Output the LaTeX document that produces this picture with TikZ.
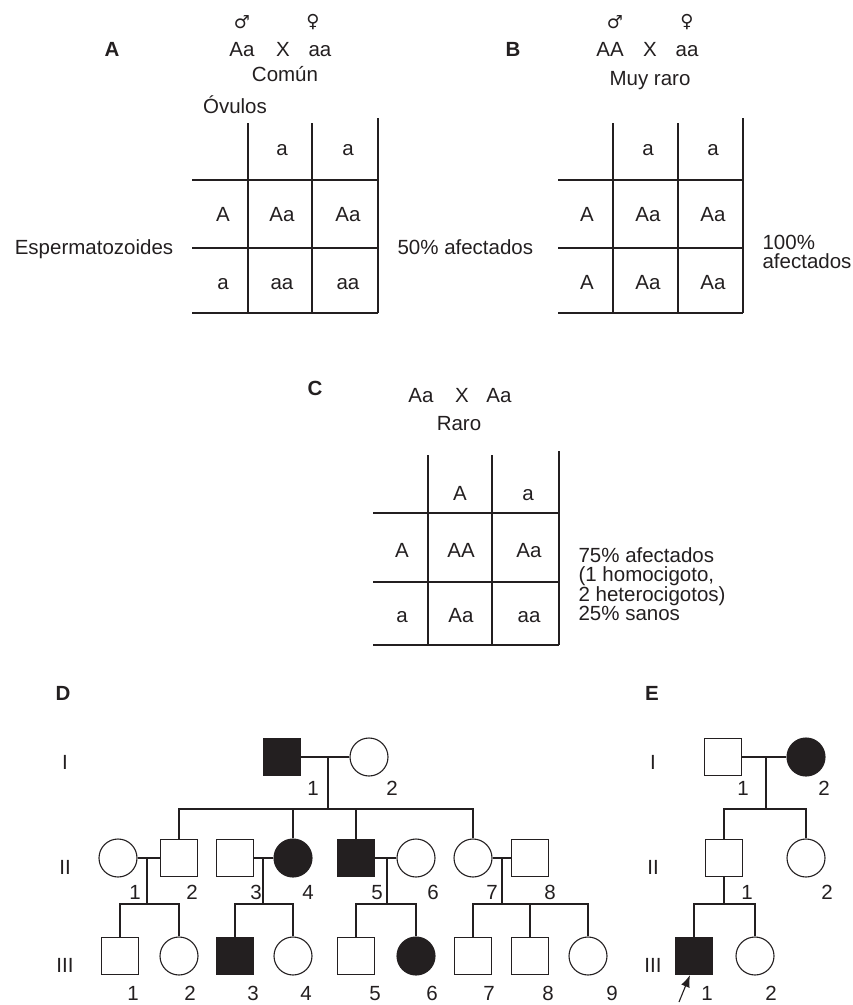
\documentclass[tikz,border=0pt]{standalone}
\usepackage{fontspec}
\setmainfont{Liberation Sans}
\newfontfamily\symfont{DejaVu Sans}
\usetikzlibrary{arrows.meta, positioning, calc}
\definecolor{ink}{HTML}{231F20}

\tikzset{
    txt/.style={inner sep=0pt, text height=14.7pt, text depth=0pt},
    sexsym/.style={inner sep=0pt, font=\symfont\fontsize{18}{18}\selectfont},
    note/.style={inner sep=0pt, align=left, anchor=west},
    male/.style={draw, rectangle, minimum size=37pt, inner sep=0pt},
    female/.style={draw, circle, minimum size=38pt, inner sep=0pt},
    affected/.style={fill=ink},
}

\begin{document}
\begin{tikzpicture}[x=1pt, y=-1pt, line width=1.1pt, color=ink,
    font=\fontsize{20.5}{19}\selectfont]
\useasboundingbox (0,0) rectangle (853,1005);

% --- A: Aa x aa
\node[txt] (labA) at (112,49) {\bfseries A};
\node[sexsym] (aMale) at (242,22) {♂};
\node[sexsym] (aFemale) at (313,22) {♀};
\node[txt] (aP1) at (242,49) {Aa};
\node[txt] (aX) at (283,49) {X};
\node[txt] (aP2) at (320,49) {aa};
\node[txt] (aFreq) at (285,74) {Común};
\node[txt] (aOvulos) at (235,106) {Óvulos};
\node[txt] (aEsperm) at (94,247) {Espermatozoides};
\node[txt, anchor=west] (aRes) at (397,247) {50\% afectados};
\foreach \y in {180,248,313} \draw (192,\y) -- (378,\y);
\foreach \x in {248,312} \draw (\x,123) -- (\x,313);
\draw (378,118) -- (378,313);
\foreach \x/\t [count=\i] in {282/a,348/a} \node[txt] (aH\i) at (\x,148) {\t};
\foreach \y/\t [count=\i] in {214/A,282/a} \node[txt] (aR\i) at (223,\y) {\t};
\foreach \x/\y/\t [count=\i] in {282/214/Aa,348/214/Aa,282/282/aa,348/282/aa}
    \node[txt] (aC\i) at (\x,\y) {\t};

% --- B: AA x aa
\node[txt] (labB) at (513,49) {\bfseries B};
\node[sexsym] (bMale) at (615,22) {♂};
\node[sexsym] (bFemale) at (687,22) {♀};
\node[txt] (bP1) at (610,49) {AA};
\node[txt] (bX) at (650,49) {X};
\node[txt] (bP2) at (687,49) {aa};
\node[txt] (bFreq) at (650,78) {Muy raro};
\node[note] (bRes) at (762,251.5) {100\%\\afectados};
\foreach \y in {180,248,313} \draw (558,\y) -- (743,\y);
\foreach \x in {613,678} \draw (\x,123) -- (\x,313);
\draw (743,118) -- (743,313);
\foreach \x/\t [count=\i] in {648/a,713/a} \node[txt] (bH\i) at (\x,148) {\t};
\foreach \y/\t [count=\i] in {214/A,282/A} \node[txt] (bR\i) at (587,\y) {\t};
\foreach \x/\y/\t [count=\i] in {648/214/Aa,713/214/Aa,648/282/Aa,713/282/Aa}
    \node[txt] (bC\i) at (\x,\y) {\t};

% --- C: Aa x Aa
\node[txt] (labC) at (315,388) {\bfseries C};
\node[txt] (cP1) at (421,395) {Aa};
\node[txt] (cX) at (462,395) {X};
\node[txt] (cP2) at (499,395) {Aa};
\node[txt] (cFreq) at (459,423) {Raro};
\node[note] (cRes) at (578,584) {75\% afectados\\(1 homocigoto,\\2 heterocigotos)\\25\% sanos};
\foreach \y in {513,582,645} \draw (373,\y) -- (559,\y);
\foreach \x in {428,492} \draw (\x,455) -- (\x,645);
\draw (559,451) -- (559,645);
\foreach \x/\t [count=\i] in {460/A,528/a} \node[txt] (cH\i) at (\x,493) {\t};
\foreach \y/\t [count=\i] in {550/A,615/a} \node[txt] (cR\i) at (402,\y) {\t};
\foreach \x/\y/\t [count=\i] in {461/550/AA,529/550/Aa,461/615/Aa,529/615/aa}
    \node[txt] (cC\i) at (\x,\y) {\t};

% --- D: pedigree
\node[txt] (labD) at (63,693) {\bfseries D};
\foreach \y/\t in {762/I,867/II,965/III} \node[txt] (dGen\t) at (65,\y) {\t};
% generation I
\node[male, affected] (dI1) at (282,757) {};
\node[female] (dI2) at (369,757) {};
\draw (dI1) -- (dI2);
\coordinate (dmI) at (328,757);
\coordinate (dsI) at (328,809);
\draw (dmI) -- (dsI);
% generation II
\node[female] (dII1) at (118,858) {};
\node[male] (dII2) at (179,858) {};
\node[male] (dII3) at (235,858) {};
\node[female, affected] (dII4) at (293,858) {};
\node[male, affected] (dII5) at (356,858) {};
\node[female] (dII6) at (416,858) {};
\node[female] (dII7) at (473,858) {};
\node[male] (dII8) at (530,858) {};
\foreach \k in {dII2,dII4,dII5,dII7} \draw (\k) |- (dsI);
\draw (dII1) -- (dII2);
\draw (dII3) -- (dII4);
\draw (dII5) -- (dII6);
\draw (dII7) -- (dII8);
\foreach \x/\n in {147/a,263/b,387/c,502/d} {
    \coordinate (dmII\n) at (\x,858);
    \coordinate (dsII\n) at (\x,904);
    \draw (dmII\n) -- (dsII\n);
}
% generation III
\node[male] (dIII1) at (120,956) {};
\node[female] (dIII2) at (179,956) {};
\node[male, affected] (dIII3) at (235,956) {};
\node[female] (dIII4) at (293,956) {};
\node[male] (dIII5) at (356,956) {};
\node[female, affected] (dIII6) at (416,956) {};
\node[male] (dIII7) at (473,956) {};
\node[male] (dIII8) at (530,956) {};
\node[female] (dIII9) at (588,956) {};
\foreach \k/\n in {dIII1/a,dIII2/a,dIII3/b,dIII4/b,dIII5/c,dIII6/c,dIII7/d,dIII8/d,dIII9/d}
    \draw (\k) |- (dsII\n);
% numbers
\foreach \x/\t in {313/1,392/2} \node[txt] (dnI\t) at (\x,788) {\t};
\foreach \x [count=\i] in {135,192,256,308,377,433,492,550}
    \node[txt] (dnII\i) at (\x,892) {\i};
\foreach \x [count=\i] in {133,190,253,306,375,432,489,548,612}
    \node[txt] (dnIII\i) at (\x,993) {\i};

% --- E: pedigree
\node[txt] (labE) at (652,693) {\bfseries E};
\foreach \y/\t in {762/I,867/II,965/III} \node[txt] (eGen\t) at (653,\y) {\t};
\node[male] (eI1) at (723,757) {};
\node[female, affected] (eI2) at (806,757) {};
\draw (eI1) -- (eI2);
\coordinate (emI) at (766,757);
\coordinate (esI) at (766,809);
\draw (emI) -- (esI);
\node[male] (eII1) at (724,858) {};
\node[female] (eII2) at (806,858) {};
\draw (eII1) |- (esI);
\draw (eII2) |- (esI);
\coordinate (esII) at (724,904);
\draw (eII1) -- (esII);
\node[male, affected] (eIII1) at (694,956) {};
\node[female] (eIII2) at (755,956) {};
\draw (eIII1) |- (esII);
\draw (eIII2) |- (esII);
% proband
\coordinate (eProb) at (679,1002);
\draw[-{Latex[length=12pt, width=9pt]}] (eProb) -- ($(eIII1.south)+(-4,0)$);
% numbers
\foreach \x/\t in {743/1,824/2} \node[txt] (enI\t) at (\x,788) {\t};
\foreach \x/\t in {747/1,827/2} \node[txt] (enII\t) at (\x,892) {\t};
\foreach \x/\t in {707/1,771/2} \node[txt] (enIII\t) at (\x,993) {\t};
\end{tikzpicture}
\end{document}
